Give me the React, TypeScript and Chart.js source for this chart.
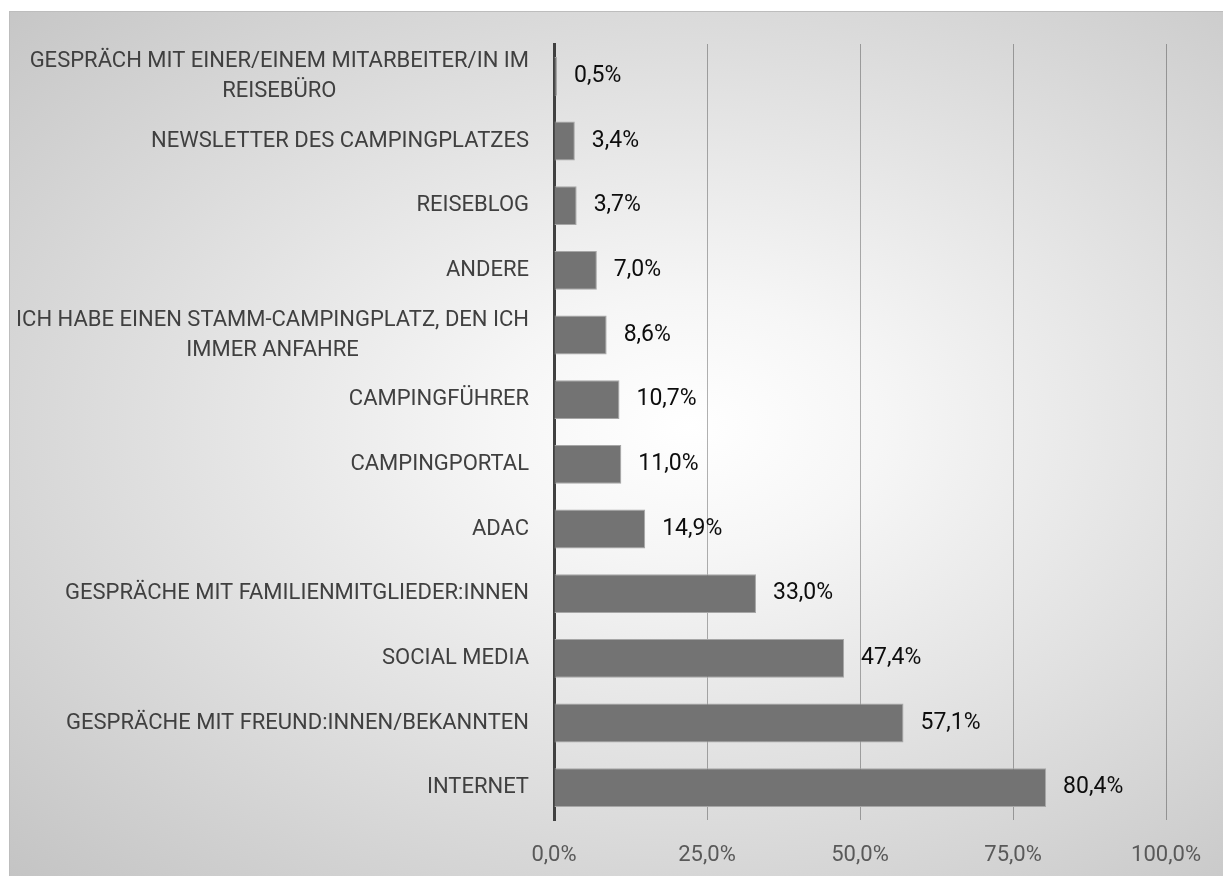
import React, { useEffect, useRef } from "react";
import { Chart, registerables } from "chart.js";

Chart.register(...registerables);

const categories: (string | string[])[] = [
  ["GESPRÄCH MIT EINER/EINEM MITARBEITER/IN IM", "REISEBÜRO"],
  "NEWSLETTER DES CAMPINGPLATZES",
  "REISEBLOG",
  "ANDERE",
  ["ICH HABE EINEN STAMM-CAMPINGPLATZ, DEN ICH", "IMMER ANFAHRE"],
  "CAMPINGFÜHRER",
  "CAMPINGPORTAL",
  "ADAC",
  "GESPRÄCHE MIT FAMILIENMITGLIEDER:INNEN",
  "SOCIAL MEDIA",
  "GESPRÄCHE MIT FREUND:INNEN/BEKANNTEN",
  "INTERNET",
];

const values: number[] = [0.5, 3.4, 3.7, 7.0, 8.6, 10.7, 11.0, 14.9, 33.0, 47.4, 57.1, 80.4];

const xTicks: number[] = [0, 25, 50, 75, 100];

const FONT = "Roboto";

const fmt = (v: number) => v.toFixed(1).replace(".", ",") + "%";

const labelPlugin = {
  id: "customLabels",
  afterDraw(chart: any) {
    const ctx = chart.ctx;
    const yScale = chart.scales.y;
    const area = chart.chartArea;
    ctx.save();
    ctx.font = `22px ${FONT}`;
    ctx.fillStyle = "#404040";
    ctx.textBaseline = "middle";
    ctx.textAlign = "center";
    const rightX = area.left - 25;
    const lh = 30;
    categories.forEach((cat, i) => {
      const lines = Array.isArray(cat) ? cat : [cat];
      const y = yScale.getPixelForTick(i);
      const maxW = Math.max(...lines.map((l) => ctx.measureText(l).width));
      const cx = rightX - maxW / 2;
      lines.forEach((l, j) => {
        const ly = y + (j - (lines.length - 1) / 2) * lh;
        ctx.fillText(l, cx, ly);
      });
    });
    const meta = chart.getDatasetMeta(0);
    ctx.font = `23px ${FONT}`;
    ctx.fillStyle = "#0d0d0d";
    ctx.textAlign = "left";
    meta.data.forEach((bar: any, i: number) => {
      ctx.fillText(fmt(values[i]), bar.x + 17, bar.y);
    });
    ctx.restore();
  },
};

export default function App() {
  const ref = useRef<HTMLCanvasElement>(null);
  useEffect(() => {
    if (!ref.current) return;
    const chart = new Chart(ref.current, {
      type: "bar",
      data: {
        labels: categories.map((c) => (Array.isArray(c) ? c.join(" ") : c)),
        datasets: [
          {
            data: values,
            backgroundColor: "#737373",
            borderColor: "#a6a6a6",
            borderWidth: 1,
            barPercentage: 0.6,
            categoryPercentage: 1,
          },
        ],
      },
      options: {
        indexAxis: "y",
        animation: false,
        responsive: true,
        maintainAspectRatio: false,
        layout: { padding: { top: 32, right: 55, bottom: 0, left: 0 } },
        plugins: {
          legend: { display: false },
          tooltip: { enabled: false },
        },
        scales: {
          x: {
            min: 0,
            max: 100,
            z: 1,
            afterBuildTicks: (scale: any) => {
              scale.ticks = xTicks.map((v) => ({ value: v }));
            },
            afterFit: (scale: any) => {
              scale.height = 56;
            },
            grid: {
              color: (c: any) => (c.tick && c.tick.value === 0 ? "rgba(0,0,0,0)" : "rgba(0,0,0,0.3)"),
              lineWidth: 1,
              drawTicks: false,
            },
            border: { display: false },
            ticks: {
              padding: 22,
              color: "#595959",
              font: { family: FONT, size: 22 },
              callback: (v: any) => fmt(Number(v)),
            },
          },
          y: {
            afterFit: (scale: any) => {
              scale.width = 544;
            },
            grid: { display: false, drawTicks: false },
            border: { display: true, color: "#404040", width: 3 },
            ticks: { display: false },
          },
        },
      },
      plugins: [labelPlugin],
    });
    return () => chart.destroy();
  }, []);

  return (
    <div
      style={{
        position: "fixed",
        left: 9,
        top: 11,
        width: 1214,
        height: 865,
        borderTop: "1px solid #bdbdbd",
        borderLeft: "1px solid #bdbdbd",
        boxSizing: "border-box",
        background: "radial-gradient(ellipse farthest-corner at 56% 48%, #ffffff 0%, #f6f6f6 20%, #c4c4c4 100%)",
      }}
    >
      <canvas ref={ref} />
    </div>
  );
}
